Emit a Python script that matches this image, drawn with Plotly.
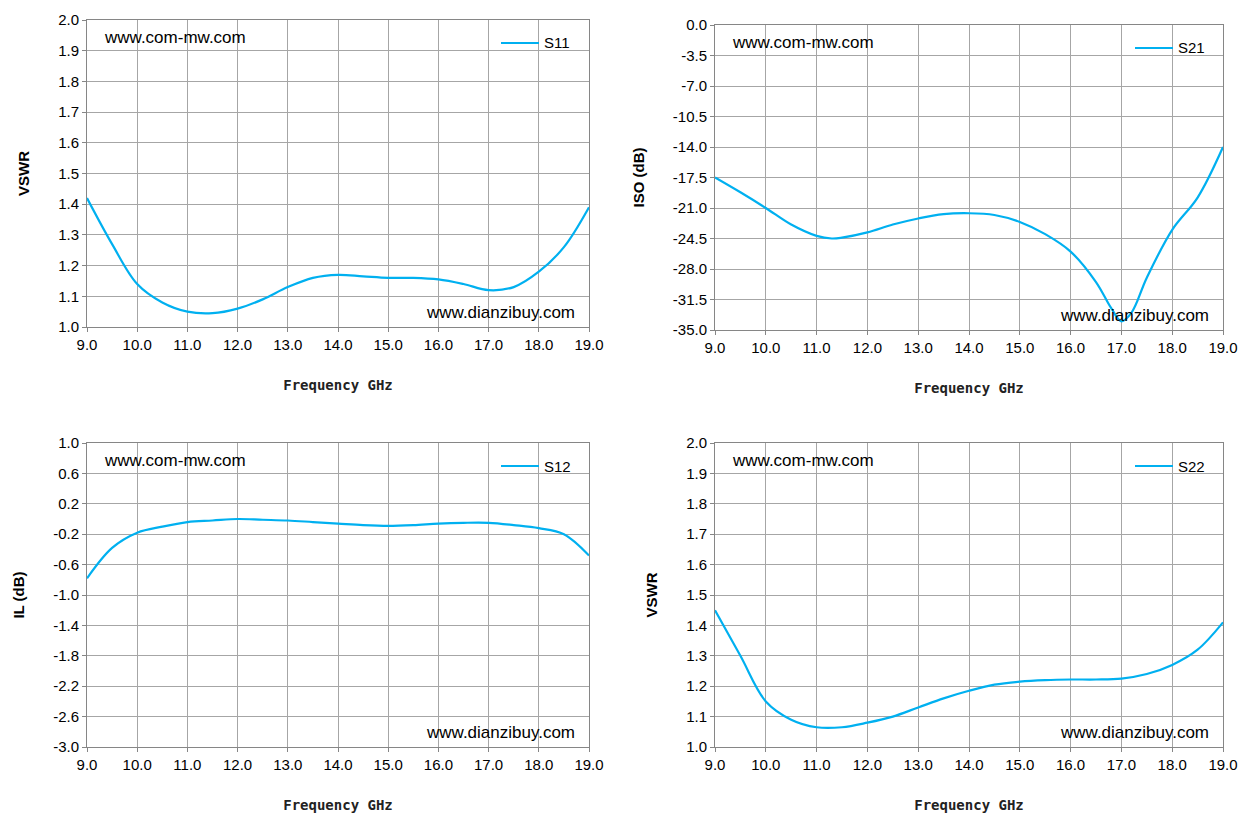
import plotly.graph_objects as go

freq = [9.0, 9.5, 10.0, 10.5, 11.0, 11.5, 12.0, 12.5, 13.0, 13.5, 14.0,
        14.5, 15.0, 15.5, 16.0, 16.5, 17.0, 17.5, 18.0, 18.5, 19.0]
s11 = [1.42, 1.27, 1.14, 1.08, 1.05, 1.045, 1.06, 1.09, 1.13, 1.16, 1.17,
       1.165, 1.16, 1.16, 1.155, 1.14, 1.12, 1.13, 1.18, 1.26, 1.39]
s12 = [-0.78, -0.38, -0.18, -0.1, -0.04, -0.02, 0.0, -0.01, -0.02, -0.04, -0.06,
       -0.08, -0.09, -0.08, -0.06, -0.05, -0.05, -0.08, -0.12, -0.2, -0.48]
s22 = [1.45, 1.3, 1.15, 1.09, 1.065, 1.065, 1.08, 1.1, 1.13, 1.16, 1.185,
       1.205, 1.215, 1.22, 1.222, 1.222, 1.225, 1.24, 1.27, 1.32, 1.41]
freq21 = [9.0, 9.5, 10.0, 10.5, 11.0, 11.3, 11.5, 12.0, 12.5, 13.0, 13.5, 14.0,
          14.5, 15.0, 15.5, 16.0, 16.5, 16.8, 17.0, 17.2, 17.5, 18.0, 18.5, 19.0]
s21 = [-17.5, -19.2, -21.0, -22.9, -24.2, -24.5, -24.4, -23.8, -22.9, -22.2, -21.7, -21.6,
       -21.8, -22.6, -24.0, -26.0, -29.5, -32.5, -34.0, -33.0, -29.0, -23.5, -19.8, -14.0]

x_ticks = [9, 10, 11, 12, 13, 14, 15, 16, 17, 18, 19]
vswr_ticks = [1.0, 1.1, 1.2, 1.3, 1.4, 1.5, 1.6, 1.7, 1.8, 1.9, 2.0]
iso_ticks = [0.0, -3.5, -7.0, -10.5, -14.0, -17.5, -21.0, -24.5, -28.0, -31.5, -35.0]
il_ticks = [1.0, 0.6, 0.2, -0.2, -0.6, -1.0, -1.4, -1.8, -2.2, -2.6, -3.0]

W, H = 1253, 833
OFF = 8  # page body margin
panels = [
    ("S11", freq, s11, "VSWR", [1.0, 2.0], vswr_ticks, (87, 589, 20, 327)),
    ("S21", freq21, s21, "ISO (dB)", [-35, 0], iso_ticks, (715, 1223, 25, 330)),
    ("S12", freq, s12, "IL (dB)", [-3.0, 1.0], il_ticks, (87, 589, 443, 747)),
    ("S22", freq, s22, "VSWR", [1.0, 2.0], vswr_ticks, (715, 1223, 443, 747)),
]

fig = go.Figure()
line_col = "#00B0F0"
axfont = dict(family="DejaVu Sans Mono", size=14, color="#222")
tickfont = dict(family="Liberation Sans", size=15, color="#000")
shapes, annos = [], []
for i, (name, x, y, yt, yr, yticks, box) in enumerate(panels, start=1):
    l, r, t, b = [v - OFF for v in box]
    xa = "x" if i == 1 else f"x{i}"
    ya = "y" if i == 1 else f"y{i}"
    fig.add_trace(go.Scatter(x=x, y=y, mode="lines", line=dict(color=line_col, width=2.2, shape="spline"),
                             xaxis=xa, yaxis=ya, showlegend=False))
    common = dict(showgrid=True, gridcolor="#a6a6a6", showline=True, linecolor="#868686", mirror=True,
                  ticks="outside", ticklen=4, tickcolor="#868686", zeroline=False,
                  tickfont=tickfont, automargin=False)
    fig.layout[f"xaxis{'' if i == 1 else i}"] = dict(
        domain=[l / W, r / W], range=[9, 19], anchor=ya,
        tickvals=x_ticks, ticktext=[f"{v:.1f}" for v in x_ticks],
        title=dict(text="<b>Frequency GHz</b>", font=axfont, standoff=28), **common)
    fig.layout[f"yaxis{'' if i == 1 else i}"] = dict(
        domain=[1 - b / H, 1 - t / H], range=yr, anchor=xa,
        tickvals=yticks, ticktext=[f"{v:.1f}" for v in yticks],
        title=dict(text=f"<b>{yt}</b>", font=tickfont, standoff=24), **common)
    annos.append(dict(x=(l + 15) / W, y=1 - (t + 17) / H, xref="paper", yref="paper", text="www.com-mw.com",
                      showarrow=False, xanchor="left", yanchor="middle",
                      font=dict(family="Liberation Sans", size=17, color="#000")))
    annos.append(dict(x=(r - 12) / W, y=1 - (b - 15) / H, xref="paper", yref="paper", text="www.dianzibuy.com",
                      showarrow=False, xanchor="right", yanchor="middle",
                      font=dict(family="Liberation Sans", size=17, color="#000")))
    ly = 1 - (t + 23) / H
    shapes.append(dict(type="line", xref="paper", yref="paper", x0=(r - 88) / W, x1=(r - 50) / W,
                       y0=ly, y1=ly, line=dict(color=line_col, width=2.2)))
    annos.append(dict(x=(r - 47) / W, y=ly, xref="paper", yref="paper", text=name, showarrow=False,
                      xanchor="left", yanchor="middle", font=tickfont))

fig.update_layout(width=W, height=H, margin=dict(l=0, r=0, t=0, b=0),
                  paper_bgcolor="white", plot_bgcolor="white", shapes=shapes, annotations=annos)
fig.write_html("out.html")
